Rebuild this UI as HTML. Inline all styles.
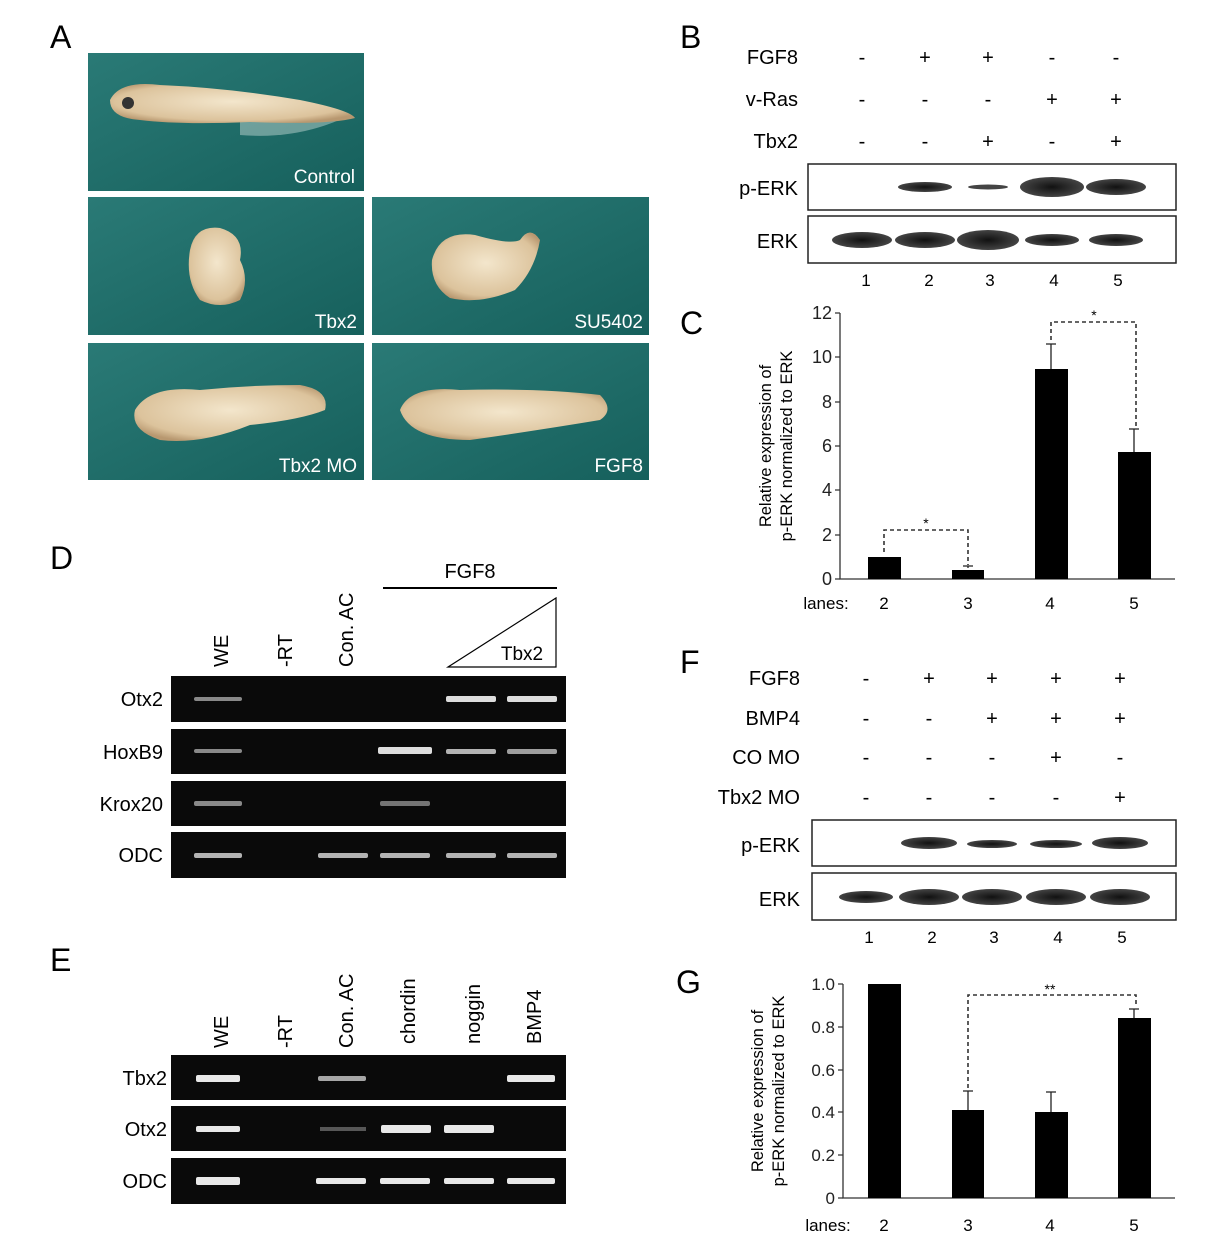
<!DOCTYPE html>
<html><head><meta charset="utf-8"><style>
html,body{margin:0;padding:0;background:#fff}
svg{display:block;font-family:"Liberation Sans",Arial,sans-serif}
</style></head><body>
<svg width="1218" height="1241" viewBox="0 0 1218 1241" xmlns="http://www.w3.org/2000/svg">
<defs>
<radialGradient id="emb" cx="50%" cy="45%" r="60%"><stop offset="0" stop-color="#f3e6cc"/><stop offset="0.8" stop-color="#dcc39c"/><stop offset="1" stop-color="#b89870"/></radialGradient>
<linearGradient id="teal" x1="0" y1="0" x2="1" y2="1"><stop offset="0" stop-color="#2a7a76"/><stop offset="1" stop-color="#16605c"/></linearGradient>
<radialGradient id="band" cx="50%" cy="50%" r="50%"><stop offset="0" stop-color="#111"/><stop offset="1" stop-color="#444"/></radialGradient>
</defs>
<g font-size="32"><text x="50" y="48">A</text><text x="680" y="48">B</text><text x="680" y="334">C</text><text x="50" y="569">D</text><text x="50" y="971">E</text><text x="680" y="673">F</text><text x="676" y="993">G</text></g>

<!-- Panel A -->
<rect x="88" y="53" width="276" height="138" fill="url(#teal)"/>
<path d="M240 105 Q300 100 350 115 Q300 140 240 135Z" fill="#cfe0dc" opacity=".45"/>
<path d="M110 100 Q120 80 160 85 Q230 88 300 100 Q350 110 355 118 Q330 125 250 122 Q180 125 140 120 Q110 118 110 100Z" fill="url(#emb)"/>
<circle cx="128" cy="103" r="6" fill="#333"/>
<text x="355" y="183" fill="#fff" font-size="19" text-anchor="end">Control</text>
<rect x="88" y="197" width="276" height="138" fill="url(#teal)"/>
<path d="M190 250 Q195 225 220 228 Q245 235 240 260 Q250 280 240 300 Q220 310 200 300 Q185 280 190 250Z" fill="url(#emb)"/>
<text x="357" y="328" fill="#fff" font-size="19" text-anchor="end">Tbx2</text>
<rect x="372" y="197" width="277" height="138" fill="url(#teal)"/>
<path d="M432 260 Q440 230 475 235 Q510 245 520 240 Q530 225 540 240 Q535 270 515 290 Q480 305 450 298 Q430 285 432 260Z" fill="url(#emb)"/>
<text x="643" y="328" fill="#fff" font-size="19" text-anchor="end">SU5402</text>
<rect x="88" y="343" width="276" height="137" fill="url(#teal)"/>
<path d="M135 410 Q150 385 200 390 Q250 385 300 385 Q330 390 325 410 Q300 420 250 425 Q200 445 160 440 Q130 430 135 410Z" fill="url(#emb)"/>
<text x="357" y="472" fill="#fff" font-size="19" text-anchor="end">Tbx2 MO</text>
<rect x="372" y="343" width="277" height="137" fill="url(#teal)"/>
<path d="M400 410 Q410 385 460 390 Q540 388 600 395 Q615 410 600 420 Q540 430 470 440 Q410 440 400 410Z" fill="url(#emb)"/>
<text x="643" y="472" fill="#fff" font-size="19" text-anchor="end">FGF8</text>

<!-- Panel B -->
<g font-size="20" text-anchor="end"><text x="798" y="64">FGF8</text><text x="798" y="106">v-Ras</text><text x="798" y="148">Tbx2</text><text x="798" y="195">p-ERK</text><text x="798" y="248">ERK</text></g>
<g font-size="20" text-anchor="middle">
<text x="862" y="64">-</text><text x="925" y="64">+</text><text x="988" y="64">+</text><text x="1052" y="64">-</text><text x="1116" y="64">-</text>
<text x="862" y="106">-</text><text x="925" y="106">-</text><text x="988" y="106">-</text><text x="1052" y="106">+</text><text x="1116" y="106">+</text>
<text x="862" y="148">-</text><text x="925" y="148">-</text><text x="988" y="148">+</text><text x="1052" y="148">-</text><text x="1116" y="148">+</text>
</g>
<rect x="808" y="164" width="368" height="46" fill="#fff" stroke="#222" stroke-width="1.5"/>
<ellipse cx="925" cy="187" rx="27" ry="5" fill="url(#band)"/><ellipse cx="988" cy="187" rx="20" ry="2.5" fill="#444"/><ellipse cx="1052" cy="187" rx="32" ry="10" fill="url(#band)"/><ellipse cx="1116" cy="187" rx="30" ry="8" fill="url(#band)"/>
<rect x="808" y="216" width="368" height="47" fill="#fff" stroke="#222" stroke-width="1.5"/>
<ellipse cx="862" cy="240" rx="30" ry="8" fill="url(#band)"/><ellipse cx="925" cy="240" rx="30" ry="8" fill="url(#band)"/><ellipse cx="988" cy="240" rx="31" ry="10" fill="url(#band)"/><ellipse cx="1052" cy="240" rx="27" ry="6" fill="url(#band)"/><ellipse cx="1116" cy="240" rx="27" ry="6" fill="url(#band)"/>
<g font-size="17" text-anchor="middle"><text x="866" y="286">1</text><text x="929" y="286">2</text><text x="990" y="286">3</text><text x="1054" y="286">4</text><text x="1118" y="286">5</text></g>

<!-- Panel C -->
<g stroke="#333" stroke-width="1.3" fill="none"><path d="M840 313V579H1175"/>
<path d="M835 313H840M835 357H840M835 402H840M835 446H840M835 490H840M835 535H840M835 579H840"/></g>
<g font-size="18" text-anchor="end" fill="#222"><text x="832" y="319">12</text><text x="832" y="363">10</text><text x="832" y="408">8</text><text x="832" y="452">6</text><text x="832" y="496">4</text><text x="832" y="541">2</text><text x="832" y="585">0</text></g>
<text transform="translate(771,446) rotate(-90)" font-size="16.5" text-anchor="middle">Relative expression of</text>
<text transform="translate(792,446) rotate(-90)" font-size="16.5" text-anchor="middle">p-ERK normalized to ERK</text>
<rect x="868" y="557" width="33" height="22"/><rect x="952" y="570" width="32" height="9"/><rect x="1035" y="369" width="33" height="210"/><rect x="1118" y="452" width="33" height="127"/>
<g stroke="#222" stroke-width="1.3"><path d="M968 568V566M963 566H973M1051 369V344M1046 344H1056M1134 452V429M1129 429H1139"/></g>
<g stroke="#333" stroke-width="1.6" stroke-dasharray="4,3" fill="none"><path d="M884 552V530H968V565"/><path d="M1051 340V322H1136V426"/></g>
<g font-size="14" text-anchor="middle"><text x="926" y="528">*</text><text x="1094" y="320">*</text></g>
<g font-size="17" text-anchor="middle"><text x="826" y="609">lanes:</text><text x="884" y="609">2</text><text x="968" y="609">3</text><text x="1050" y="609">4</text><text x="1134" y="609">5</text></g>

<!-- Panel D -->
<text x="470" y="578" font-size="20" text-anchor="middle">FGF8</text>
<path d="M383 588H557" stroke="#000" stroke-width="2"/>
<path d="M448 667L556 598V667Z" fill="#fff" stroke="#000" stroke-width="1.2"/>
<text x="522" y="660" font-size="19" text-anchor="middle">Tbx2</text>
<g font-size="20"><text transform="translate(228,667) rotate(-90)">WE</text><text transform="translate(292,667) rotate(-90)">-RT</text><text transform="translate(353,667) rotate(-90)">Con. AC</text></g>
<g font-size="20" text-anchor="end"><text x="163" y="706">Otx2</text><text x="163" y="759">HoxB9</text><text x="163" y="811">Krox20</text><text x="163" y="862">ODC</text></g>
<rect x="171" y="676" width="395" height="46" fill="#0a0a0a"/><rect x="171" y="729" width="395" height="45" fill="#0a0a0a"/><rect x="171" y="781" width="395" height="45" fill="#0a0a0a"/><rect x="171" y="832" width="395" height="46" fill="#0a0a0a"/>
<g fill="#ddd">
<rect x="194" y="697" width="48" height="4" opacity=".6" rx="2"/><rect x="446" y="696" width="50" height="6" rx="2"/><rect x="507" y="696" width="50" height="6" rx="2"/>
<rect x="194" y="749" width="48" height="4" opacity=".6" rx="2"/><rect x="378" y="747" width="54" height="7" rx="2"/><rect x="446" y="749" width="50" height="5" opacity=".8" rx="2"/><rect x="507" y="749" width="50" height="5" opacity=".7" rx="2"/>
<rect x="194" y="801" width="48" height="5" opacity=".6" rx="2"/><rect x="380" y="801" width="50" height="5" opacity=".5" rx="2"/>
<rect x="194" y="853" width="48" height="5" opacity=".8" rx="2"/><rect x="318" y="853" width="50" height="5" opacity=".8" rx="2"/><rect x="380" y="853" width="50" height="5" opacity=".8" rx="2"/><rect x="446" y="853" width="50" height="5" opacity=".8" rx="2"/><rect x="507" y="853" width="50" height="5" opacity=".8" rx="2"/>
</g>

<!-- Panel E -->
<g font-size="20"><text transform="translate(228,1048) rotate(-90)">WE</text><text transform="translate(292,1048) rotate(-90)">-RT</text><text transform="translate(353,1048) rotate(-90)">Con. AC</text><text transform="translate(415,1044) rotate(-90)">chordin</text><text transform="translate(480,1044) rotate(-90)">noggin</text><text transform="translate(541,1044) rotate(-90)">BMP4</text></g>
<g font-size="20" text-anchor="end"><text x="167" y="1085">Tbx2</text><text x="167" y="1136">Otx2</text><text x="167" y="1188">ODC</text></g>
<rect x="171" y="1055" width="395" height="45" fill="#0a0a0a"/><rect x="171" y="1106" width="395" height="45" fill="#0a0a0a"/><rect x="171" y="1158" width="395" height="46" fill="#0a0a0a"/>
<g fill="#e8e8e8">
<rect x="196" y="1075" width="44" height="7" rx="2"/><rect x="318" y="1076" width="48" height="5" opacity=".7" rx="2"/><rect x="507" y="1075" width="48" height="7" rx="2"/>
<rect x="196" y="1126" width="44" height="6" rx="2"/><rect x="320" y="1127" width="46" height="4" opacity=".35"/><rect x="381" y="1125" width="50" height="8" rx="2"/><rect x="444" y="1125" width="50" height="8" rx="2"/>
<rect x="196" y="1177" width="44" height="8" rx="2"/><rect x="316" y="1178" width="50" height="6" rx="2"/><rect x="380" y="1178" width="50" height="6" rx="2"/><rect x="444" y="1178" width="50" height="6" rx="2"/><rect x="507" y="1178" width="48" height="6" rx="2"/>
</g>

<!-- Panel F -->
<g font-size="20" text-anchor="end"><text x="800" y="685">FGF8</text><text x="800" y="725">BMP4</text><text x="800" y="764">CO MO</text><text x="800" y="804">Tbx2 MO</text><text x="800" y="852">p-ERK</text><text x="800" y="906">ERK</text></g>
<g font-size="20" text-anchor="middle">
<text x="866" y="685">-</text><text x="929" y="685">+</text><text x="992" y="685">+</text><text x="1056" y="685">+</text><text x="1120" y="685">+</text>
<text x="866" y="725">-</text><text x="929" y="725">-</text><text x="992" y="725">+</text><text x="1056" y="725">+</text><text x="1120" y="725">+</text>
<text x="866" y="764">-</text><text x="929" y="764">-</text><text x="992" y="764">-</text><text x="1056" y="764">+</text><text x="1120" y="764">-</text>
<text x="866" y="804">-</text><text x="929" y="804">-</text><text x="992" y="804">-</text><text x="1056" y="804">-</text><text x="1120" y="804">+</text>
</g>
<rect x="812" y="820" width="364" height="46" fill="#fff" stroke="#222" stroke-width="1.5"/>
<ellipse cx="929" cy="843" rx="28" ry="6" fill="url(#band)"/><ellipse cx="992" cy="844" rx="25" ry="4" fill="url(#band)"/><ellipse cx="1056" cy="844" rx="26" ry="4" fill="url(#band)"/><ellipse cx="1120" cy="843" rx="28" ry="6" fill="url(#band)"/>
<rect x="812" y="873" width="364" height="47" fill="#fff" stroke="#222" stroke-width="1.5"/>
<ellipse cx="866" cy="897" rx="27" ry="6" fill="url(#band)"/><ellipse cx="929" cy="897" rx="30" ry="8" fill="url(#band)"/><ellipse cx="992" cy="897" rx="30" ry="8" fill="url(#band)"/><ellipse cx="1056" cy="897" rx="30" ry="8" fill="url(#band)"/><ellipse cx="1120" cy="897" rx="30" ry="8" fill="url(#band)"/>
<g font-size="17" text-anchor="middle"><text x="869" y="943">1</text><text x="932" y="943">2</text><text x="994" y="943">3</text><text x="1058" y="943">4</text><text x="1122" y="943">5</text></g>

<!-- Panel G -->
<g stroke="#333" stroke-width="1.3" fill="none"><path d="M843 984V1198H1175"/>
<path d="M838 984H843M838 1027H843M838 1070H843M838 1112H843M838 1155H843M838 1198H843"/></g>
<g font-size="17" text-anchor="end" fill="#222"><text x="835" y="990">1.0</text><text x="835" y="1033">0.8</text><text x="835" y="1076">0.6</text><text x="835" y="1118">0.4</text><text x="835" y="1161">0.2</text><text x="835" y="1204">0</text></g>
<text transform="translate(763,1091) rotate(-90)" font-size="16.5" text-anchor="middle">Relative expression of</text>
<text transform="translate(784,1091) rotate(-90)" font-size="16.5" text-anchor="middle">p-ERK normalized to ERK</text>
<rect x="868" y="984" width="33" height="214"/><rect x="952" y="1110" width="32" height="88"/><rect x="1035" y="1112" width="33" height="86"/><rect x="1118" y="1018" width="33" height="180"/>
<g stroke="#222" stroke-width="1.3"><path d="M968 1110V1091M963 1091H973M1051 1112V1092M1046 1092H1056M1134 1018V1009M1129 1009H1139"/></g>
<g stroke="#333" stroke-width="1.6" stroke-dasharray="4,3" fill="none"><path d="M968 1088V995H1136V1006"/></g>
<text x="1050" y="994" font-size="14" text-anchor="middle">**</text>
<g font-size="17" text-anchor="middle"><text x="828" y="1231">lanes:</text><text x="884" y="1231">2</text><text x="968" y="1231">3</text><text x="1050" y="1231">4</text><text x="1134" y="1231">5</text></g>
</svg>
</body></html>
